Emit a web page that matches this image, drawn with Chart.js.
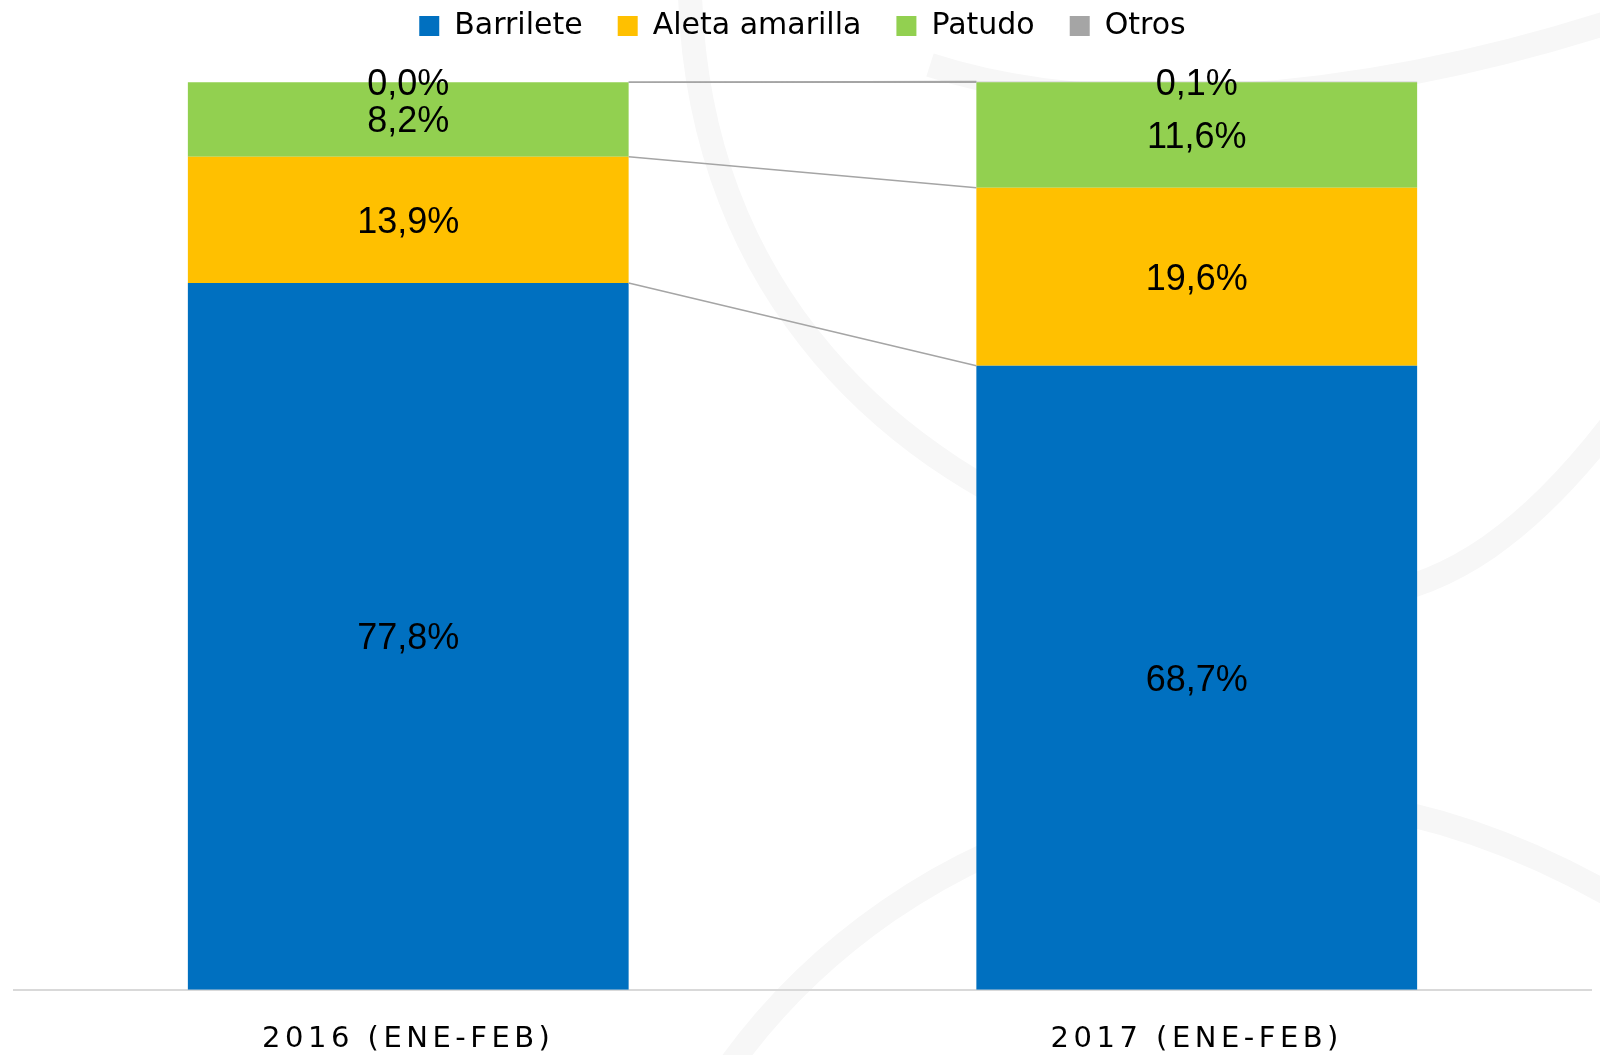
<html>

<body style="margin:0;background:#fff">
    <script src="https://cdn.jsdelivr.net/npm/chart.js"></script>

    <div style="width:1600px;height:1055px">
        <canvas id="chart"></canvas>
    </div>
    <script>
        const categories = ['2016 (ENE-FEB)', '2017 (ENE-FEB)'];
        const barrilete = [77.8, 68.7];
        const aletaAmarilla = [13.9, 19.6];
        const patudo = [8.2, 11.6];
        const otros = [0.0, 0.1];
        const seriesNames = ['Barrilete', 'Aleta amarilla', 'Patudo', 'Otros'];
        const seriesColors = ['#0070C0', '#FFC000', '#92D050', '#A5A5A5'];

        const fmt = v => v.toFixed(1).replace('.', ',') + '%';

        // faint swirl watermark behind the plot
        const backgroundArcs = {
            id: 'backgroundArcs',
            beforeDraw(chart) {
                const ctx = chart.ctx;
                ctx.save();
                ctx.strokeStyle = '#f7f7f7';
                ctx.lineWidth = 24;
                ctx.beginPath();
                ctx.moveTo(690, -5);
                ctx.bezierCurveTo(700, 300, 900, 470, 1100, 540);
                ctx.bezierCurveTo(1300, 620, 1440, 650, 1615, 420);
                ctx.stroke();
                ctx.beginPath();
                ctx.moveTo(730, 1065);
                ctx.bezierCurveTo(900, 830, 1250, 690, 1610, 895);
                ctx.stroke();
                ctx.beginPath();
                ctx.moveTo(930, 65);
                ctx.bezierCurveTo(1100, 120, 1350, 105, 1610, 22);
                ctx.stroke();
                ctx.restore();
            }
        };

        // lines joining the segment tops of the two bars
        const seriesLines = {
            id: 'seriesLines',
            afterDatasetsDraw(chart) {
                const ctx = chart.ctx;
                ctx.save();
                ctx.strokeStyle = '#a5a5a5';
                ctx.lineWidth = 1.5;
                chart.data.datasets.forEach((ds, i) => {
                    const bars = chart.getDatasetMeta(i).data;
                    const a = bars[0], b = bars[1];
                    ctx.beginPath();
                    ctx.moveTo(a.x + a.width / 2, a.y);
                    ctx.lineTo(b.x - b.width / 2, b.y);
                    ctx.stroke();
                });
                ctx.restore();
            }
        };

        const valueLabels = {
            id: 'valueLabels',
            afterDatasetsDraw(chart) {
                const ctx = chart.ctx;
                ctx.save();
                ctx.font = '36px "Liberation Sans"';
                ctx.fillStyle = '#000';
                ctx.textAlign = 'center';
                ctx.textBaseline = 'middle';
                chart.data.datasets.forEach((ds, i) => {
                    chart.getDatasetMeta(i).data.forEach((bar, j) => {
                        ctx.fillText(fmt(ds.data[j]), bar.x, (bar.y + bar.base) / 2 + 3);
                    });
                });
                ctx.restore();
            }
        };

        // tracked-out category labels
        const spacedTicks = {
            id: 'spacedTicks',
            afterLayout(chart) {
                const s = chart.scales.x;
                if (s._spaced) return;
                const orig = s.drawLabels;
                s.drawLabels = function (area) {
                    this.ctx.save();
                    this.ctx.letterSpacing = '4.5px';
                    orig.call(this, area);
                    this.ctx.restore();
                };
                s._spaced = true;
            }
        };

        Chart.defaults.color = '#000';

        const data = {
            labels: categories,
            datasets: [barrilete, aletaAmarilla, patudo, otros].map((vals, i) => ({
                label: seriesNames[i],
                data: vals,
                backgroundColor: seriesColors[i],
                borderWidth: 0,
                categoryPercentage: 1,
                barPercentage: 0.559
            }))
        };

        const config = {
            type: 'bar',
            data: data,
            options: {
                responsive: true,
                maintainAspectRatio: false,
                animation: false,
                layout: { padding: { top: -24, left: 14, right: 9, bottom: -33.6 } },
                plugins: {
                    legend: {
                        position: 'top',
                        labels: {
                            font: { family: 'DejaVu Sans', size: 30 },
                            boxWidth: 20,
                            boxHeight: 20,
                            padding: 35,
                            color: '#000'
                        }
                    },
                    title: {
                        display: true,
                        text: '',
                        weight: 500,
                        font: { size: 1, lineHeight: 1 },
                        padding: { top: 0, bottom: 29.4 }
                    },
                    tooltip: { enabled: false }
                },
                scales: {
                    x: {
                        stacked: true,
                        grid: { display: false, drawTicks: false },
                        border: { display: true, color: '#d9d9d9', width: 2 },
                        ticks: {
                            font: { family: 'DejaVu Sans', size: 29 },
                            color: '#000',
                            padding: 32
                        }
                    },
                    y: {
                        stacked: true,
                        display: false,
                        min: 0,
                        max: 100
                    }
                }
            },
            plugins: [backgroundArcs, seriesLines, valueLabels, spacedTicks]
        };

        window.chart = new Chart(document.getElementById('chart'), config);
    </script>

</body>

</html>
